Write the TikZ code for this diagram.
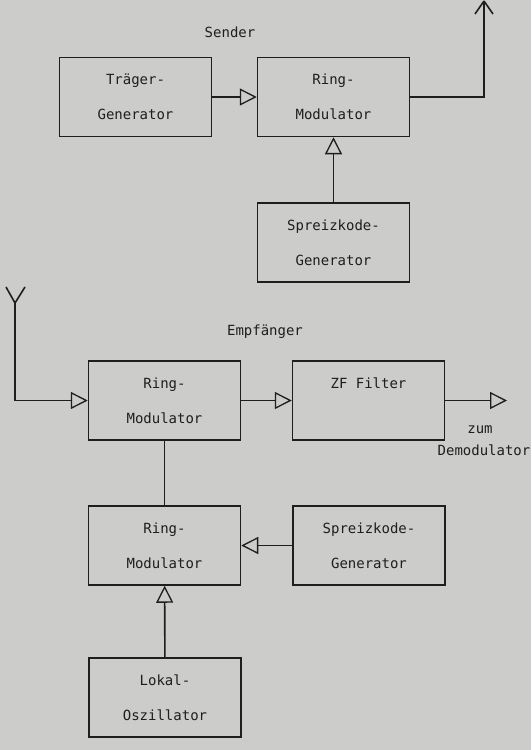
\documentclass[tikz,border=0pt]{standalone}
\usepackage{fontspec}
\newfontfamily\plotfont{DejaVu Sans Mono}
\usepackage{tikz}
\usetikzlibrary{positioning,arrows.meta}
\definecolor{paper}{RGB}{204,204,202}
\definecolor{ink}{RGB}{30,30,30}

\begin{document}
\begin{tikzpicture}[
  x=1pt,y=-1pt,
  every node/.style={font=\plotfont\fontsize{14}{35}\selectfont,text=ink},
  blk/.style={draw=ink,line width=1.5pt,align=center,minimum width=152pt,minimum height=79pt,inner sep=0pt},
  arrow/.style={-{Triangle[open,length=17pt,width=17pt,line width=1.3pt]},line width=1.6pt,draw=ink},
  wire/.style={line width=1.6pt,draw=ink}
]
  \fill[paper] (0,0) rectangle (531,750);
  \useasboundingbox (0,0) rectangle (531,750);
  \node[blk] (traeger) at (135.5, 97)   {Träger-\\Generator};
  \node[blk] (ringS)   at (333.5, 97)   {Ring-\\Modulator};
  \node[blk] (spreizS) at (333.5,242.5) {Spreizkode-\\Generator};
  \node[blk] (ringE)   at (164.5,400.5) {Ring-\\Modulator};
  \node[blk] (zf)      at (368.5,400.5) {ZF Filter\\~};
  \node[blk] (ringL)   at (164.5,545.5) {Ring-\\Modulator};
  \node[blk] (spreizE) at (369,  545.5) {Spreizkode-\\Generator};
  \node[blk] (lokal)   at (165,  697.5) {Lokal-\\Oszillator};
  \node (sender) at (230, 32)  {Sender};
  \node (empf)   at (265,332)  {Empfänger};
  \node (zum)    at (480,430)  {zum};
  \node (demod)  at (484,450)  {Demodulator};
  \coordinate (antS) at (484,1);
  \coordinate (antE) at (15,303);
  \coordinate (aus)  at (507,400.5);
  \draw[arrow] (traeger) -- (ringS);
  \draw[arrow] (spreizS) -- (ringS);
  \draw[wire]  (ringS.east) -| (antS);
  \draw[wire]  (antS) -- +(-9,13) (antS) -- +(9,13);
  \draw[wire]  (antE) -- +(-9,-16) (antE) -- +(10,-16);
  \draw[arrow] (antE) |- (ringE.west);
  \draw[arrow] (ringE) -- (zf);
  \draw[arrow] (zf.east) -- (aus);
  \draw[wire]  (ringE) -- (ringL);
  \draw[arrow] (spreizE) -- (ringL);
  \draw[arrow] (lokal) -- (ringL);
\end{tikzpicture}
\end{document}
